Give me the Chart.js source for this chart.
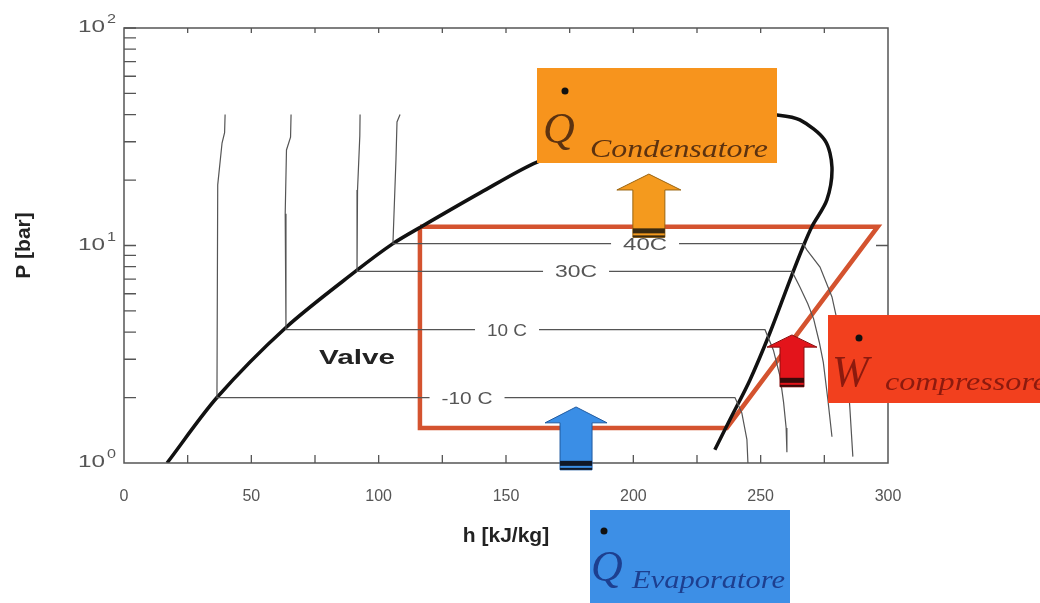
<!DOCTYPE html>
<html>
<head>
<meta charset="utf-8">
<script src="https://cdn.jsdelivr.net/npm/chart.js@4.4.1/dist/chart.umd.min.js"></script>
<style>
html, body { margin: 0; padding: 0; background: #fff; }
canvas { display: block; }
</style>
</head>
<body>
<canvas id="chart" width="1040" height="603" style="width:1040px;height:603px"></canvas>
<script>
// saturation dome (liquid side, over the top, down the vapour side)
var domeH = [16.9, 36.5, 63.6, 91.5, 105.6, 116.2, 140, 162.2, 190, 220, 245, 256.4, 265.4, 275.2, 278.0, 276.0, 270.1, 266.6, 261.5, 253.6, 245.8, 237.9, 232.0];
var domeP = [1.0, 2.0, 4.2, 7.7, 10.2, 12.1, 17.5, 24.2, 31, 37, 40.3, 39.8, 37.8, 30.5, 22.9, 16.2, 12.2, 9.84, 6.94, 3.96, 2.41, 1.58, 1.15];

// isotherms: liquid part, plateau in the dome, vapour part
var isoM10H = [39.7, 39.5, 38.5, 36.8, 36.5, 239.9, 242.6, 244.6, 245.0];
var isoM10P = [40, 33, 29.6, 19, 2.0, 2.0, 1.70, 1.28, 1.0];
var iso10H = [65.6, 65.4, 63.8, 63.3, 63.6, 251.7, 255.0, 257.6, 259.0, 260.0, 260.3];
var iso10P = [40, 31.5, 27.5, 14, 4.1, 4.1, 3.3, 2.5, 1.9, 1.45, 1.12];
var iso30H = [92.7, 92.6, 91.7, 91.5, 262.3, 265.4, 268.5, 270.8, 273.0, 274.6, 276.4, 278.0];
var iso30P = [40, 32, 18, 7.6, 7.6, 6.44, 5.4, 4.6, 3.6, 2.9, 1.95, 1.32];
var iso40H = [108.4, 107.2, 106.8, 105.6, 266.6, 268.2, 273.3, 278.0, 281.1, 283.9, 285.0, 286.2];
var iso40P = [40, 37, 25, 10.2, 10.2, 9.53, 7.96, 5.80, 3.96, 2.76, 1.81, 1.07];

var isoNames = ['-10 C', '10 C', '30C', '40C'];
var isoLabelH = [134.7, 150.4, 177.5, 204.6];
var isoLabelP = [2.0, 4.1, 7.6, 10.2];

// refrigeration cycle
var cycleH = [116.2, 296.0, 236.7, 116.2, 116.2];
var cycleP = [12.2, 12.2, 1.45, 1.45, 12.2];

var xTicks = [0, 50, 100, 150, 200, 250, 300];
var yTicks = [1, 10, 100];
var yTickExp = {1: '0', 10: '1', 100: '2'};

// heat / work arrows: h, tip, head base, bottom pressures
var arrowH = [206.1, 177.5, 262.3];
var arrowTip = [21.3, 1.81, 3.88];
var arrowHead = [18.0, 1.53, 3.41];
var arrowBottom = [10.9, 0.93, 2.24];

function pts(h, p) {
    return h.map(function (v, i) { return {x: v, y: p[i]}; });
}

function line(h, p, color, width, tension) {
    return {
        data: pts(h, p), showLine: true, pointRadius: 0,
        borderColor: color, borderWidth: width, tension: tension, fill: false
    };
}

var datasets = [
    line(isoM10H, isoM10P, '#555', 1.2, 0),
    line(iso10H, iso10P, '#555', 1.2, 0),
    line(iso30H, iso30P, '#555', 1.2, 0),
    line(iso40H, iso40P, '#555', 1.2, 0),
    line(domeH, domeP, '#111', 3.5, 0.3),
    {data: pts(cycleH, cycleP), showLine: true, pointRadius: 0, borderColor: '#d4532f',
     borderWidth: 4.5, tension: 0, borderJoinStyle: 'miter', fill: false}
];

function fitText(c, str, x, y, w, font, color) {
    c.save();
    c.font = font;
    c.fillStyle = color;
    c.textBaseline = 'alphabetic';
    c.textAlign = 'left';
    var m = c.measureText(str).width;
    c.translate(x, y);
    c.scale(w / m, 1);
    c.fillText(str, 0, 0);
    c.restore();
}

function arrow(c, cx, tip, head, bottom, hw, sw, fill, stroke, band) {
    c.save();
    c.beginPath();
    c.moveTo(cx, tip);
    c.lineTo(cx + hw, head);
    c.lineTo(cx + sw, head);
    c.lineTo(cx + sw, bottom);
    c.lineTo(cx - sw, bottom);
    c.lineTo(cx - sw, head);
    c.lineTo(cx - hw, head);
    c.closePath();
    c.fillStyle = fill;
    c.fill();
    c.strokeStyle = stroke;
    c.lineWidth = 1;
    c.stroke();
    c.fillStyle = band;
    c.fillRect(cx - sw, bottom - 9, sw * 2, 5);
    c.fillRect(cx - sw, bottom - 2, sw * 2, 2);
    c.restore();
}

function box(c, x, y, w, h, color, sym, sub, symX, symBase, dotX, dotY, subX, subBase, subW, textColor) {
    c.save();
    c.fillStyle = color;
    c.fillRect(x, y, w, h);
    c.fillStyle = textColor;
    c.font = 'italic 44px "Liberation Serif", serif';
    c.textBaseline = 'alphabetic';
    c.fillText(sym, symX, symBase);
    c.fillStyle = '#111';
    c.beginPath();
    c.arc(dotX, dotY, 3.5, 0, Math.PI * 2);
    c.fill();
    c.restore();
    fitText(c, sub, subX, subBase, subW, 'italic 25px "Liberation Serif", serif', textColor);
}

var decor = {
    id: 'decor',
    afterDatasetsDraw: function (chart) {
        var c = chart.ctx, a = chart.chartArea;
        var xs = chart.scales.x, ys = chart.scales.y;
        c.save();
        // frame and inward ticks
        c.strokeStyle = '#555';
        c.lineWidth = 1.5;
        c.strokeRect(a.left, a.top, a.right - a.left, a.bottom - a.top);
        c.lineWidth = 1.3;
        c.beginPath();
        for (var h = 25; h < 300; h += 25) {
            var px = xs.getPixelForValue(h);
            c.moveTo(px, a.bottom); c.lineTo(px, a.bottom - 8);
            c.moveTo(px, a.top); c.lineTo(px, a.top + 5);
        }
        for (var d = 1; d <= 10; d *= 10) {
            for (var k = 2; k <= 10; k++) {
                var py = ys.getPixelForValue(k * d);
                c.moveTo(a.left, py); c.lineTo(a.left + 12, py);
            }
        }
        var p10 = ys.getPixelForValue(10);
        c.moveTo(a.right, p10); c.lineTo(a.right - 12, p10);
        c.stroke();

        // log tick labels 10^n
        for (var t = 0; t < yTicks.length; t++) {
            var ty = ys.getPixelForValue(yTicks[t]);
            fitText(c, '10', a.left - 46, ty + 4, 27, '16px "Liberation Sans", Arial, sans-serif', '#555');
            fitText(c, yTickExp[yTicks[t]], a.left - 17, ty - 5, 9, '12px "Liberation Sans", Arial, sans-serif', '#555');
        }

        // isotherm labels over the lines
        var lw = [51, 40, 42, 44];
        for (var i = 0; i < isoNames.length; i++) {
            var cx = xs.getPixelForValue(isoLabelH[i]);
            var cy = ys.getPixelForValue(isoLabelP[i]);
            c.fillStyle = '#fff';
            c.fillRect(cx - lw[i] / 2 - 12, cy - 7, lw[i] + 24, 14);
            fitText(c, isoNames[i], cx - lw[i] / 2, cy + 6, lw[i], '16px "Liberation Sans", Arial, sans-serif', '#555');
        }

        // Valve
        var vx = xs.getPixelForValue(91.5), vy = ys.getPixelForValue(3.07);
        fitText(c, 'Valve', vx - 38, vy + 7, 76, 'bold 20px "Liberation Sans", Arial, sans-serif', '#222');
        c.restore();

        // arrows
        var fills = ['#f49a1e', '#3a8ee6', '#e3141b'];
        var strokes = ['#9a6410', '#1f5aa0', '#8a1010'];
        var bands = ['#3a2a10', '#101828', '#3a0a0a'];
        var hw = [32, 31, 25], sw = [16, 16, 12];
        for (var j = 0; j < arrowH.length; j++) {
            arrow(c, xs.getPixelForValue(arrowH[j]), ys.getPixelForValue(arrowTip[j]),
                ys.getPixelForValue(arrowHead[j]), ys.getPixelForValue(arrowBottom[j]),
                hw[j], sw[j], fills[j], strokes[j], bands[j]);
        }

        // labelled boxes
        box(c, 537, 68, 240, 95, '#f7941d', 'Q', 'Condensatore', 543, 143, 565, 91, 590, 157, 178, '#5c3210');
        box(c, 828, 315, 212, 88, '#f2401e', 'W', 'compressore', 832, 386, 859, 338, 885, 390, 162, '#8c1a0e');
        box(c, 590, 510, 200, 93, '#3d8fe6', 'Q', 'Evaporatore', 591, 581, 604, 531, 632, 588, 153, '#1d3f8f');
    }
};

Chart.defaults.font.family = '"Liberation Sans", Arial, sans-serif';

var ctx = document.getElementById('chart').getContext('2d');
var chart = new Chart(ctx, {
    type: 'scatter',
    data: {datasets: datasets},
    options: {
        responsive: false,
        animation: false,
        layout: {padding: {left: 12, right: 152, top: 28, bottom: 52}},
        plugins: {legend: {display: false}, tooltip: {enabled: false}},
        scales: {
            x: {
                type: 'linear', min: 0, max: 300,
                afterBuildTicks: function (s) { s.ticks = xTicks.map(function (v) { return {value: v}; }); },
                ticks: {color: '#555', font: {size: 16}, padding: 16, maxRotation: 0},
                grid: {display: false},
                border: {display: false},
                title: {display: true, text: 'h [kJ/kg]', color: '#222', font: {size: 21, weight: 'bold'}, padding: {top: 0, bottom: 2}},
                afterFit: function (s) { s.height = 88; }
            },
            y: {
                type: 'logarithmic', min: 1, max: 100,
                afterBuildTicks: function (s) { s.ticks = yTicks.map(function (v) { return {value: v}; }); },
                ticks: {display: false},
                grid: {display: false},
                border: {display: false},
                title: {display: true, text: 'P [bar]', color: '#222', font: {size: 21, weight: 'bold'}, padding: {top: 0, bottom: 0}},
                afterFit: function (s) { s.width = 112; }
            }
        }
    },
    plugins: [decor]
});
</script>
</body>
</html>
